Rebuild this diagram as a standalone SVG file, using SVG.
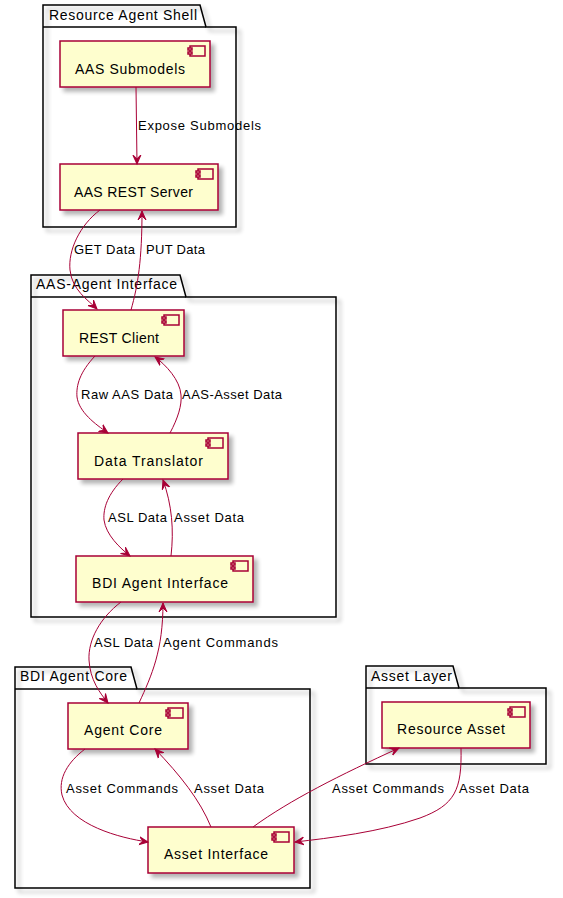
<svg xmlns="http://www.w3.org/2000/svg" width="563" height="898" viewBox="0 0 563 898">
<defs>
<filter id="sh" x="-10%" y="-10%" width="130%" height="130%">
<feGaussianBlur in="SourceAlpha" stdDeviation="2"/>
<feOffset dx="4" dy="4" result="o"/>
<feComponentTransfer><feFuncA type="linear" slope="0.3"/></feComponentTransfer>
<feMerge><feMergeNode/><feMergeNode in="SourceGraphic"/></feMerge>
</filter>
<marker id="ah" markerWidth="12" markerHeight="10" refX="9" refY="5" orient="auto" markerUnits="userSpaceOnUse" viewBox="0 0 12 10">
<path d="M0,1 L9,5 L0,9 L4,5 Z" fill="#A80036" stroke="#A80036" stroke-width="1"/>
</marker>
<g id="icon">
<rect x="-20" y="5" width="15" height="10" fill="#FEFECE" stroke="#A80036" stroke-width="1.5"/>
<rect x="-22" y="7" width="4" height="2" fill="#FEFECE" stroke="#A80036" stroke-width="1.5"/>
<rect x="-22" y="11" width="4" height="2" fill="#FEFECE" stroke="#A80036" stroke-width="1.5"/>
</g>
</defs>
<style>
.pkg{fill:none;stroke:#000000;stroke-width:1.5;}
.cmp{fill:#FEFECE;stroke:#A80036;stroke-width:1.5;}
.ptxt{font-family:"Liberation Sans",Arial,sans-serif;font-size:14px;fill:#000000;}
.ctxt{font-family:"Liberation Sans",Arial,sans-serif;font-size:14px;fill:#000000;}
.ltxt{font-family:"Liberation Sans",Arial,sans-serif;font-size:13px;fill:#000000;}
.con{fill:none;stroke:#A80036;stroke-width:1;marker-end:url(#ah);}
</style>
<rect width="563" height="898" fill="#FFFFFF"/>

<g id="pkg-resource-agent-shell">
<path class="pkg" filter="url(#sh)" d="M43,5 L200,5 L206,27 L236,27 L236,227 L43,227 Z"/>
<line x1="43" y1="27" x2="206" y2="27" stroke="#000" stroke-width="1.5"/>
<text class="ptxt" x="49" y="20" textLength="148" lengthAdjust="spacing">Resource Agent Shell</text>
</g>
<g id="pkg-aas-agent-interface">
<path class="pkg" filter="url(#sh)" d="M31,275 L180,275 L186,297 L336,297 L336,617 L31,617 Z"/>
<line x1="31" y1="297" x2="186" y2="297" stroke="#000" stroke-width="1.5"/>
<text class="ptxt" x="36" y="289" textLength="141" lengthAdjust="spacing">AAS-Agent Interface</text>
</g>
<g id="pkg-bdi-agent-core">
<path class="pkg" filter="url(#sh)" d="M15,667 L131,667 L137,689 L310,689 L310,888 L15,888 Z"/>
<line x1="15" y1="689" x2="137" y2="689" stroke="#000" stroke-width="1.5"/>
<text class="ptxt" x="20" y="681" textLength="107" lengthAdjust="spacing">BDI Agent Core</text>
</g>
<g id="pkg-asset-layer">
<path class="pkg" filter="url(#sh)" d="M366,666 L453,666 L459,688 L546,688 L546,764 L366,764 Z"/>
<line x1="366" y1="688" x2="459" y2="688" stroke="#000" stroke-width="1.5"/>
<text class="ptxt" x="371" y="681" textLength="81" lengthAdjust="spacing">Asset Layer</text>
</g>

<g id="aas-submodels">
<rect class="cmp" filter="url(#sh)" x="60" y="41" width="150" height="46"/>
<use href="#icon" x="210" y="41"/>
<text class="ctxt" x="75" y="74" textLength="110" lengthAdjust="spacing">AAS Submodels</text>
</g>
<g id="aas-rest-server">
<rect class="cmp" filter="url(#sh)" x="60" y="164" width="158" height="46"/>
<use href="#icon" x="218" y="164"/>
<text class="ctxt" x="74" y="197" textLength="119" lengthAdjust="spacing">AAS REST Server</text>
</g>
<g id="rest-client">
<rect class="cmp" filter="url(#sh)" x="63" y="310" width="121" height="46"/>
<use href="#icon" x="184" y="310"/>
<text class="ctxt" x="79" y="343" textLength="80" lengthAdjust="spacing">REST Client</text>
</g>
<g id="data-translator">
<rect class="cmp" filter="url(#sh)" x="78" y="433" width="150" height="46"/>
<use href="#icon" x="228" y="433"/>
<text class="ctxt" x="94" y="466" textLength="109" lengthAdjust="spacing">Data Translator</text>
</g>
<g id="bdi-agent-interface">
<rect class="cmp" filter="url(#sh)" x="76" y="556" width="177" height="46"/>
<use href="#icon" x="253" y="556"/>
<text class="ctxt" x="92" y="588" textLength="136" lengthAdjust="spacing">BDI Agent Interface</text>
</g>
<g id="agent-core">
<rect class="cmp" filter="url(#sh)" x="68" y="703" width="120" height="46"/>
<use href="#icon" x="188" y="703"/>
<text class="ctxt" x="84" y="735" textLength="78" lengthAdjust="spacing">Agent Core</text>
</g>
<g id="asset-interface">
<rect class="cmp" filter="url(#sh)" x="148" y="827" width="146" height="46"/>
<use href="#icon" x="294" y="827"/>
<text class="ctxt" x="164" y="859" textLength="104" lengthAdjust="spacing">Asset Interface</text>
</g>
<g id="resource-asset">
<rect class="cmp" filter="url(#sh)" x="382" y="702" width="148" height="46"/>
<use href="#icon" x="530" y="702"/>
<text class="ctxt" x="397" y="734" textLength="108" lengthAdjust="spacing">Resource Asset</text>
</g>

<g id="connectors">
<path class="con" d="M136,87 L137,164"/>
<text class="ltxt" x="138" y="130" textLength="123" lengthAdjust="spacing">Expose Submodels</text>

<path class="con" d="M100,210 C80,225 68,250 70,270 C72,290 88,300 97,309"/>
<text class="ltxt" x="74" y="254" textLength="61" lengthAdjust="spacing">GET Data</text>
<path class="con" d="M131,310 C138,285 142,260 142,211"/>
<text class="ltxt" x="146" y="254" textLength="59" lengthAdjust="spacing">PUT Data</text>

<path class="con" d="M95,356 C80,372 76,385 77,397 C79,412 95,424 108,433"/>
<text class="ltxt" x="81" y="399" textLength="92" lengthAdjust="spacing">Raw AAS Data</text>
<path class="con" d="M170,433 C178,418 182,405 181,395 C180,380 166,365 155,357"/>
<text class="ltxt" x="182" y="399" textLength="100" lengthAdjust="spacing">AAS-Asset Data</text>

<path class="con" d="M123,479 C108,494 103,508 104,520 C106,535 120,548 130,556"/>
<text class="ltxt" x="108" y="522" textLength="59" lengthAdjust="spacing">ASL Data</text>
<path class="con" d="M171,556 C174,530 172,505 163,480"/>
<text class="ltxt" x="174" y="522" textLength="70" lengthAdjust="spacing">Asset Data</text>

<path class="con" d="M121,602 C100,618 88,640 89,660 C90,680 100,693 108,703"/>
<text class="ltxt" x="94" y="647" textLength="59" lengthAdjust="spacing">ASL Data</text>
<path class="con" d="M139,703 C152,675 163,650 163,603"/>
<text class="ltxt" x="163" y="647" textLength="115" lengthAdjust="spacing">Agent Commands</text>

<path class="con" d="M85,749 C68,762 58,778 62,795 C70,825 120,838 148,842"/>
<text class="ltxt" x="66" y="793" textLength="112" lengthAdjust="spacing">Asset Commands</text>
<path class="con" d="M211,827 C200,800 180,775 155,749"/>
<text class="ltxt" x="194" y="793" textLength="70" lengthAdjust="spacing">Asset Data</text>

<path class="con" d="M253,827 C290,800 340,775 399,748"/>
<text class="ltxt" x="332" y="793" textLength="112" lengthAdjust="spacing">Asset Commands</text>
<path class="con" d="M461,748 C462,790 455,805 420,818 C380,832 330,838 295,842"/>
<text class="ltxt" x="459" y="793" textLength="70" lengthAdjust="spacing">Asset Data</text>
</g>
</svg>
